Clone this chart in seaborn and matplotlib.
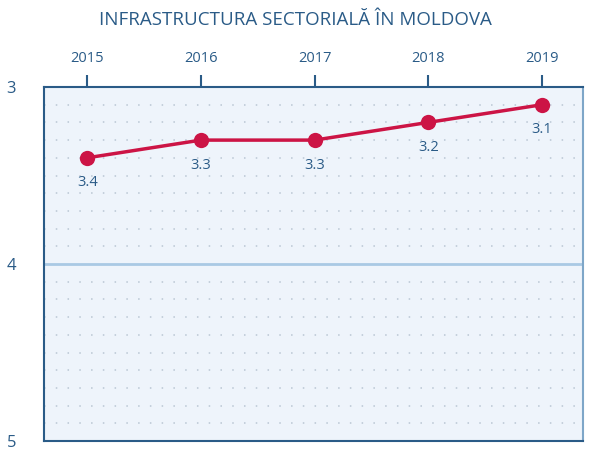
import matplotlib
matplotlib.use("Agg")
import matplotlib.pyplot as plt
import seaborn as sns
import pandas as pd
import numpy as np

years = [2015, 2016, 2017, 2018, 2019]
values = [3.4, 3.3, 3.3, 3.2, 3.1]
labels = ["3.4", "3.3", "3.3", "3.2", "3.1"]
title = "INFRASTRUCTURA SECTORIALĂ ÎN MOLDOVA"

sns.set_style("white")
plt.rcParams['font.family'] = ['Open Sans', 'DejaVu Sans']

DARK = "#2a5b87"
RED = "#cc1445"

fig = plt.figure(figsize=(5.91, 4.49), dpi=100)
ax = fig.add_axes([44/591, 1 - 441/449, (583-44)/591, (441-87)/449])
ax.set_facecolor("#eef4fb")

df = pd.DataFrame({"year": years, "value": values})

# dotted minor grid
for y in np.arange(3.1, 5.0, 0.1):
    if abs(y - 4.0) < 1e-6:
        continue
    ax.axhline(y, color="#b9c6d3", lw=1.1, linestyle=(0, (1, 6.7)), zorder=0)
ax.axhline(4.0, color="#a9c9e4", lw=2, zorder=1)

sns.lineplot(data=df, x="year", y="value", ax=ax, color=RED, lw=2.5,
             marker="o", markersize=11, markeredgewidth=0, zorder=3)

for x, y, t in zip(years, values, labels):
    ax.annotate(t, (x, y), xytext=(0, -18), textcoords="offset points",
                ha="center", va="center", fontsize=10.5, color=DARK)

ax.set_xlim(2014.62, 2019.36)
ax.set_ylim(5, 3)
ax.set_xticks(years)
ax.set_xticklabels([str(y) for y in years])
ax.set_yticks([3, 4, 5])
ax.set_yticklabels(["3", "4", "5"])
ax.xaxis.tick_top()
ax.set_xlabel("")
ax.set_ylabel("")
ax.tick_params(axis="x", direction="out", length=9, width=1.5, color=DARK,
               labelcolor=DARK, labelsize=10.5, pad=6)
ax.tick_params(axis="y", direction="out", length=12, width=1.5, color=DARK,
               labelcolor=DARK, labelsize=12, pad=8)
for s in ["left", "top", "bottom"]:
    ax.spines[s].set_color(DARK)
    ax.spines[s].set_linewidth(1.5)
ax.spines["right"].set_color("#7ea6c8")
ax.spines["right"].set_linewidth(1.5)

fig.text(0.5, 1 - 20/449, title, ha="center", va="center", fontsize=13.5,
         color=DARK)

fig.savefig("out.png", dpi=100)
